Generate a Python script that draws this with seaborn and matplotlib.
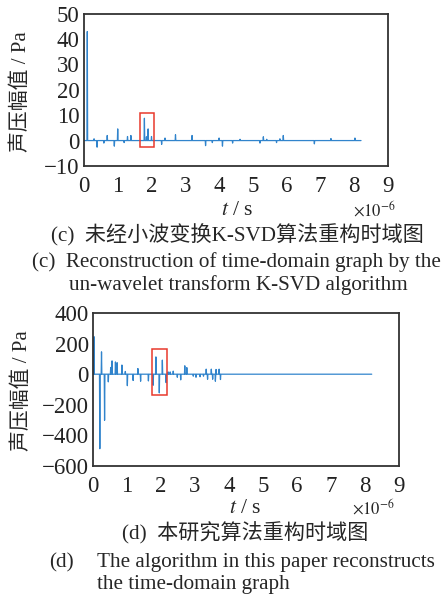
import numpy as np
import pandas as pd
import matplotlib
matplotlib.use("Agg")
import matplotlib.pyplot as plt
import seaborn as sns
from matplotlib.patches import Rectangle

# -------------------- 数据 --------------------
# 时间单位: 1e-6 s
t_end = 8.2
dt = 0.01

# (c) 未经小波变换K-SVD算法重构
c_spike_t = [0.10, 0.30, 0.39, 0.59, 0.69, 0.90, 1.00, 1.19, 1.29, 1.39,
             1.79, 1.85, 1.90, 2.00, 2.30, 2.40, 2.71, 3.20, 3.60, 3.80,
             4.00, 4.10, 4.40, 4.62, 5.21, 5.31, 5.41, 5.70, 5.80, 5.90,
             6.82, 7.31, 8.02]
c_spike_amp = [43.0, 0.7, -2.6, -1.0, 2.0, -2.2, 4.6, -0.8, 1.6, 2.0,
               8.8, 1.5, 4.6, 1.6, -1.5, 1.0, 2.3, 2.0, -2.0, -0.8,
               1.0, -2.2, -1.0, 0.5, -1.0, 1.5, 0.5, -0.8, 0.7, 2.0,
               -1.3, 0.8, 1.0]

# (d) 本研究算法重构
d_spike_t = [0.03, 0.20, 0.25, 0.34, 0.45, 0.52, 0.56, 0.66, 0.71, 0.85,
             0.95, 1.01, 1.18, 1.32, 1.40, 1.63, 1.77, 1.85, 1.95, 2.04,
             2.15, 2.21, 2.27, 2.36, 2.48, 2.58, 2.70, 2.76, 2.95, 3.03,
             3.15, 3.25, 3.33, 3.37, 3.48, 3.52, 3.60, 3.62, 3.71, 3.75]
d_spike_amp = [245, -487, 146, -301, -50, 44, 87, 80, 75, 60,
               18, -75, -41, 37, -46, -44, -72, 113, -122, 92,
               -55, 15, 15, 20, -20, -37, 55, 43, -13, -20,
               -17, -13, 33, -33, 33, -33, -46, 31, 33, -35]

c_yticks = [-10, 0, 10, 20, 30, 40, 50]
d_yticks = [-600, -400, -200, 0, 200, 400]
xticks = list(range(10))

# 红框 (x0, y0, 宽, 高)
c_box = (1.66, -2.4, 0.42, 13.2)
d_box = (1.74, -137, 0.43, 299)


def build_signal(spike_t, spike_amp):
    t = np.round(np.arange(0, t_end + dt / 2, dt), 2)
    sig = np.zeros_like(t)
    for ti, a in zip(spike_t, spike_amp):
        sig[int(round(ti / dt))] = a
    return pd.DataFrame({"t": t, "p": sig})


# -------------------- 样式 --------------------
sns.set_style("white")
plt.rcParams['font.family'] = ['Liberation Serif', 'Noto Sans CJK SC']
plt.rcParams['axes.unicode_minus'] = True
plt.rcParams['mathtext.fontset'] = 'stix'

line_color = '#3184cc'
fig = plt.figure(figsize=(4.44, 5.99), dpi=100)


def draw_panel(ax, df, yticks, box, ylab_x, ts_xy, exp_xy):
    sns.lineplot(data=df, x="t", y="p", ax=ax, color=line_color, lw=0.9)
    ax.set_xlim(0, 9)
    ax.set_ylim(yticks[0], yticks[-1])
    ax.set_xticks(xticks)
    ax.set_yticks(yticks)
    ax.set_xlabel("")
    ax.set_ylabel("声压幅值 / Pa", fontsize=15)
    ax.yaxis.set_label_coords(ylab_x, 0.49)
    ax.tick_params(direction='in', length=4, width=1.2, labelsize=16.5,
                   colors='#222222')
    ax.tick_params(axis='x', pad=7)
    ax.tick_params(axis='y', pad=3)
    for sp in ax.spines.values():
        sp.set_visible(True)
        sp.set_color('#333333')
        sp.set_linewidth(1.3)
    ax.add_patch(Rectangle(box[:2], box[2], box[3], fill=False,
                           edgecolor='#e8392c', lw=1.1, zorder=5))
    ax.text(ts_xy[0], ts_xy[1], "$t$ / s", transform=ax.transAxes,
            ha='center', va='center', fontsize=15.5)
    ax.text(exp_xy[0], exp_xy[1], r"$\times10^{-6}$", transform=ax.transAxes,
            ha='center', va='center', fontsize=12)


ax1 = fig.add_axes([0.189, 0.723, 0.685, 0.254])
draw_panel(ax1, build_signal(c_spike_t, c_spike_amp), c_yticks, c_box,
           -0.174, (0.503, -0.295), (0.954, -0.29))

ax2 = fig.add_axes([0.2095, 0.222, 0.689, 0.2555])
draw_panel(ax2, build_signal(d_spike_t, d_spike_amp), d_yticks, d_box,
           -0.2, (0.497, -0.275), (0.918, -0.275))

# 图注
fig.text(0.534, 1 - 235 / 599, "(c)  未经小波变换K-SVD算法重构时域图",
         ha='center', va='center', fontsize=15.2)
fig.text(0.532, 1 - 262 / 599, "(c)  Reconstruction of time-domain graph by the",
         ha='center', va='center', fontsize=15.2)
fig.text(0.538, 1 - 285 / 599, "un-wavelet transform K-SVD algorithm",
         ha='center', va='center', fontsize=15.2)

fig.text(0.552, 1 - 533 / 599, "(d)  本研究算法重构时域图",
         ha='center', va='center', fontsize=15.2)
fig.text(49 / 444, 1 - 567 / 599, "(d)",
         ha='left', va='baseline', fontsize=15.2)
fig.text(97 / 444, 1 - 567 / 599, "The algorithm in this paper reconstructs",
         ha='left', va='baseline', fontsize=15.2)
fig.text(97 / 444, 1 - 585 / 599, "the time-domain graph",
         ha='left', va='center', fontsize=15.2)

fig.savefig("out.png", dpi=100)
